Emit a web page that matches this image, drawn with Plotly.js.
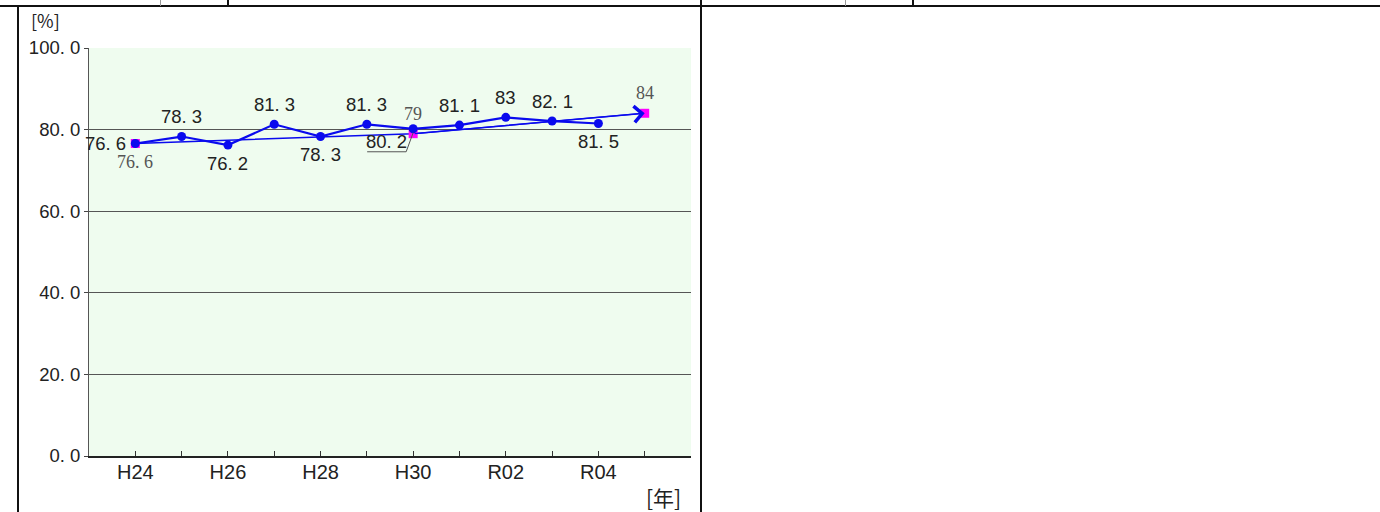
<!DOCTYPE html>
<html>
<head>
<meta charset="utf-8">
<script src="https://cdn.plot.ly/plotly-3.0.1.min.js"></script>
<style>
  html, body { margin: 0; padding: 0; background: #fff; }
  #wrap { position: relative; width: 1380px; height: 512px; overflow: hidden; }
  #chart { position: absolute; left: 0; top: 0; width: 1380px; height: 512px; }
  .ln { position: absolute; background: #111; }
</style>
</head>
<body>
<div id="wrap">
  <div id="chart"></div>
  <div class="ln" style="left:0;top:5px;width:1380px;height:2px;"></div>
  <div class="ln" style="left:17px;top:5px;width:2px;height:507px;"></div>
  <div class="ln" style="left:700px;top:0;width:2px;height:512px;"></div>
  <div class="ln" style="left:160px;top:0;width:1px;height:6px;background:#999;"></div>
  <div class="ln" style="left:227px;top:0;width:2px;height:6px;"></div>
  <div class="ln" style="left:845px;top:0;width:1px;height:6px;background:#999;"></div>
  <div class="ln" style="left:912px;top:0;width:2px;height:6px;"></div>
</div>
<script>
// ---- data ----
const categories = ['H24','H25','H26','H27','H28','H29','H30','R01','R02','R03','R04','R05'];
const actualValues = [76.6, 78.3, 76.2, 81.3, 78.3, 81.3, 80.2, 81.1, 83, 82.1, 81.5, null];
const targetCategories = ['H24','H30','R05'];
const targetValues = [76.6, 79, 84];
const yTickValues = [0, 20, 40, 60, 80, 100];
const xTickLabelCategories = ['H24','H26','H28','H30','R02','R04'];

// ---- style (label placement) ----
const actualLabelPlace = ['left','above','below','above','below','above','callout','above','above','above','below'];
const targetLabelPlace = ['below','above','above'];

const narrow = '"Liberation Sans Narrow", "Arial Narrow", "Liberation Sans", Arial, sans-serif';
const serif = '"Liberation Serif", "DejaVu Serif", serif';
const fmt = v => String(v).replace('.', '. ');

const idx = c => categories.indexOf(c);
const xs = categories.map((c, i) => i);
const ax = [], ay = [];
actualValues.forEach((v, i) => { if (v !== null) { ax.push(i); ay.push(v); } });
const tx = targetCategories.map(idx);

const blue = '#0a0aee';

const traces = [
  {
    x: tx, y: targetValues, type: 'scatter', mode: 'lines+markers',
    line: { color: blue, width: 1.5 },
    marker: { symbol: 'square', size: 9, color: '#ff00ff' },
    hoverinfo: 'skip'
  },
  {
    x: ax, y: ay, type: 'scatter', mode: 'lines+markers',
    line: { color: blue, width: 2.2 },
    marker: { symbol: 'circle', size: 9, color: blue },
    hoverinfo: 'skip'
  }
];

const annotations = [];
const shapes = [];
const shiftFor = { left: [-30, 0], above: [0, 20], below: [0, -18], callout: [-27, -13] };
ax.forEach((xi, k) => {
  const v = ay[k];
  const place = actualLabelPlace[k];
  const s = shiftFor[place];
  annotations.push({
    x: xi, y: v, xref: 'x', yref: 'y', text: fmt(v), showarrow: false,
    xanchor: 'center', yanchor: 'middle', xshift: s[0], yshift: s[1],
    font: { family: narrow, size: 18.5, color: '#222' }
  });
  if (place === 'callout') {
    // leader line anchored at the data point (pixel offsets)
    shapes.push({
      type: 'path', xref: 'x', yref: 'y', xsizemode: 'pixel', ysizemode: 'pixel',
      xanchor: xi, yanchor: v,
      path: 'M-46,-23 L-7,-23 L0,-4',
      line: { color: '#555', width: 1 }
    });
  }
});
tx.forEach((xi, k) => {
  const s = shiftFor[targetLabelPlace[k]];
  annotations.push({
    x: xi, y: targetValues[k], xref: 'x', yref: 'y', text: fmt(targetValues[k]), showarrow: false,
    xanchor: 'center', yanchor: 'middle', xshift: s[0], yshift: s[1] - (targetLabelPlace[k]==='below' ? 1 : 0),
    font: { family: serif, size: 18, color: '#555' }
  });
});
// arrow on the last target segment
const n = tx.length;
annotations.push({
  x: tx[n-1], y: targetValues[n-1], xref: 'x', yref: 'y',
  ax: tx[n-2], ay: targetValues[n-2], axref: 'x', ayref: 'y',
  text: '', showarrow: true, arrowhead: 4, arrowsize: 2.4, arrowwidth: 1.3,
  arrowcolor: blue, standoff: 0
});
// axis unit labels
annotations.push({
  x: -0.073, y: 1.069, xref: 'paper', yref: 'paper', text: '[%]', showarrow: false,
  xanchor: 'center', yanchor: 'middle',
  font: { family: '"Noto Sans CJK JP", sans-serif', size: 18, color: '#222' }
});
annotations.push({
  x: 0.9535, y: -0.1, xref: 'paper', yref: 'paper', text: '[年]', showarrow: false,
  xanchor: 'center', yanchor: 'middle',
  font: { family: '"Noto Sans CJK JP", sans-serif', size: 21, color: '#222' }
});

const xTickVals = xs.concat([categories.length]);
const xTickText = xTickVals.map(i => xTickLabelCategories.includes(categories[i]) ? categories[i] : '');

const layout = {
  width: 1380, height: 512,
  margin: { l: 89, r: 689, t: 48, b: 56, pad: 0 },
  paper_bgcolor: 'rgba(0,0,0,0)',
  plot_bgcolor: '#effcef',
  showlegend: false,
  xaxis: {
    range: [-1, categories.length], tickmode: 'array', tickvals: xTickVals, ticktext: xTickText,
    ticks: 'inside', ticklen: 5, tickcolor: '#333', tickwidth: 1,
    showline: true, linecolor: '#222', linewidth: 1.5, showgrid: false, zeroline: false,
    ticklabelstandoff: -3,
    tickfont: { family: narrow, size: 20, color: '#222' }, fixedrange: true
  },
  yaxis: {
    range: [0, 100], tickmode: 'array', tickvals: yTickValues,
    ticktext: yTickValues.map(v => v.toFixed(1).replace('.', '. ')),
    ticks: 'outside', ticklen: 4, tickcolor: '#444',
    showline: true, linecolor: '#555', linewidth: 1,
    showgrid: true, gridcolor: '#555', gridwidth: 1, zeroline: false,
    tickfont: { family: narrow, size: 18.5, color: '#222' }, fixedrange: true
  },
  shapes: shapes,
  annotations: annotations
};

Plotly.newPlot('chart', traces, layout, { displayModeBar: false, staticPlot: true });
</script>
</body>
</html>
